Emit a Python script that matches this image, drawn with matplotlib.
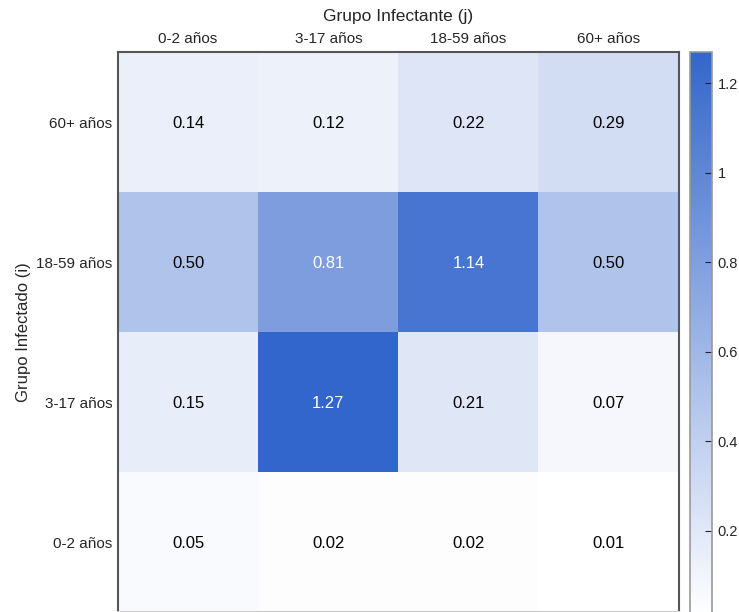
import numpy as np
import matplotlib
matplotlib.use("Agg")
import matplotlib.pyplot as plt
from matplotlib.colors import LinearSegmentedColormap

plt.rcParams['font.family'] = ['Liberation Sans', 'DejaVu Sans']

# Contact/transmission matrix: rows = infected group (i), columns = infecting group (j)
infectante = ["0-2 años", "3-17 años", "18-59 años", "60+ años"]
infectado = ["60+ años", "18-59 años", "3-17 años", "0-2 años"]
valores = np.array([
    [0.14, 0.12, 0.22, 0.29],
    [0.50, 0.81, 1.14, 0.50],
    [0.15, 1.27, 0.21, 0.07],
    [0.05, 0.02, 0.02, 0.01],
])
cbar_ticks = [0.2, 0.4, 0.6, 0.8, 1.0, 1.2]
cbar_labels = ["0.2", "0.4", "0.6", "0.8", "1", "1.2"]

W, H = 739, 612
fig = plt.figure(figsize=(W / 100, H / 100), dpi=100)

def box(x0, y0, x1, y1):
    return [x0 / W, 1 - y1 / H, (x1 - x0) / W, (y1 - y0) / H]

ax = fig.add_axes(box(118, 52, 679, 612))
cax = fig.add_axes(box(690, 52, 712, 616))

cmap = LinearSegmentedColormap.from_list("blues", ["#ffffff", "#3366cc"])
vmin, vmax = valores.min(), valores.max()
im = ax.imshow(valores, cmap=cmap, vmin=vmin, vmax=vmax, aspect="auto")

for i in range(valores.shape[0]):
    for j in range(valores.shape[1]):
        v = valores[i, j]
        color = "white" if (v - vmin) / (vmax - vmin) > 0.6 else "black"
        ax.text(j, i, f"{v:.2f}", ha="center", va="center_baseline",
                fontsize=12, color=color)

txt = "#262626"
ax.set_xticks(range(len(infectante)))
ax.set_xticklabels(infectante, fontsize=11)
ax.set_yticks(range(len(infectado)))
ax.set_yticklabels(infectado, fontsize=11)
ax.xaxis.tick_top()
ax.xaxis.set_label_position("top")
ax.tick_params(length=0, pad=4, colors=txt)
ax.set_xlabel("Grupo Infectante (j)", fontsize=12.5, labelpad=8.5, color=txt)
ax.set_ylabel("Grupo Infectado (i)", fontsize=12, labelpad=4, color=txt)

for side in ["left", "top", "right"]:
    ax.spines[side].set_color("#555555")
    ax.spines[side].set_linewidth(1.5)
ax.spines["bottom"].set_color("#cccccc")
ax.spines["bottom"].set_linewidth(1.5)

cb = fig.colorbar(im, cax=cax)
cb.set_ticks(cbar_ticks)
cb.set_ticklabels(cbar_labels)
cb.ax.tick_params(direction="in", length=5, width=0.8, labelsize=10.5,
                  color="#222222", labelcolor=txt, pad=4)
cb.outline.set_edgecolor("#999999")
cb.outline.set_linewidth(1.2)

fig.savefig("out.png", dpi=100)
